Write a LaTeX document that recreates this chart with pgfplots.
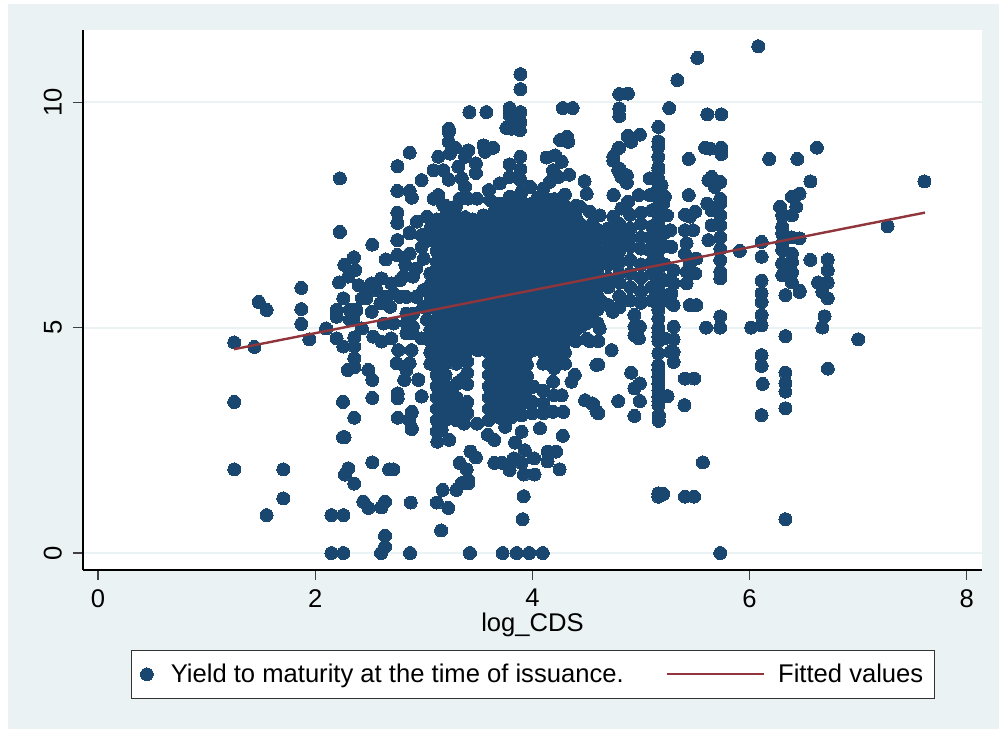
\documentclass[border=0pt]{standalone}
\usepackage{pgfplots}
\pgfplotsset{compat=1.18}
\usepackage{fontspec}
\setmainfont{Liberation Sans}
\definecolor{stblue}{HTML}{1A476F}
\definecolor{stmaroon}{HTML}{90353B}
\definecolor{stbg}{HTML}{EAF2F3}
\pgfplotsset{frame/.style={
    at={(83pt,159pt)}, anchor=south west,
    scale only axis, width=899pt, height=540pt,
    xmin=-0.138, xmax=8.14, ymin=-0.377, ymax=11.6}}

\begin{document}
\begin{tikzpicture}[x=1pt,y=1pt]
\useasboundingbox (0,0) rectangle (999,729);
\fill[stbg] (8,0) rectangle (999,725);
\begin{axis}[
    frame,
    axis background/.style={fill=white},
    axis x line*=bottom, axis y line*=left,
    axis line style={-, black, line width=1.1pt},
    xtick={0,2,4,6,8}, ytick={0,5,10},
    tick align=outside, major tick length=10pt,
    tick style={line width=1.1pt, black!75},
    ymajorgrids, grid style={stbg, line width=2pt},
    /pgf/number format/assume math mode=true,
    tick label style={font=\fontsize{25.6}{29}\selectfont, inner sep=0pt},
    xticklabel style={yshift=-9pt},
    yticklabel style={rotate=90, anchor=south, yshift=11pt},
    xlabel={log\_CDS},
    xlabel style={font=\fontsize{25.6}{29}\selectfont, inner sep=0pt, at={(0.5,0)}, anchor=north, yshift=-43pt},
]
\addplot[only marks, mark=*, mark size=6.5pt, mark options={draw=stblue, fill=stblue, line width=0pt}]
coordinates {
% left tail
(1.255,4.67)(1.44,4.57)(1.48,5.57)(1.553,5.39)(1.872,5.88)(1.872,5.41)(1.872,5.08)(1.946,4.74)
(1.255,3.35)(1.255,1.855)(1.707,1.855)(1.707,1.21)(1.553,0.84)(2.10,4.98)
(2.15,0.84)(2.26,0.84)(2.15,0)(2.26,0)(2.228,7.12)(2.228,8.31)(2.526,6.84)(2.256,3.35)(2.36,3.0)
(2.256,2.57)(2.27,2.57)(2.526,2.01)(2.305,1.88)(2.274,1.74)(2.36,1.54)(2.443,1.14)(2.49,1.0)
(2.61,1.01)(2.643,1.14)(2.88,1.12)(2.643,0.38)(2.643,0.14)(2.606,0)(2.873,0)(2.68,1.855)(2.72,1.855)
(3.12,1.12)(3.16,0.5)(2.98,3.48)(2.76,3.0)(2.888,3.11)(2.864,2.95)(2.888,2.75)
(2.76,3.54)(2.76,3.43)(2.526,3.44)(2.49,4.06)(2.526,3.84)(2.95,3.84)(2.82,3.84)
% cluster left of the core
(2.197,4.76)(2.259,4.58)(2.36,4.78)(2.36,4.58)(2.36,4.32)(2.30,4.06)(2.36,4.12)(2.197,5.39)(2.259,5.65)
(2.197,5.24)(2.32,5.39)(2.32,5.17)(2.38,5.39)(2.43,5.65)(2.40,5.94)(2.52,5.98)(2.61,6.09)(2.70,5.98)
(2.22,6.0)(2.305,6.13)(2.268,6.39)(2.37,6.28)(2.357,6.56)(2.65,6.51)(2.756,6.94)(2.756,6.61)(2.87,6.64)
(2.87,7.09)(2.98,7.05)(2.98,6.79)(3.0,6.53)(2.83,6.39)(2.93,6.31)(2.90,6.13)(2.81,6.13)(2.535,4.80)
(2.61,4.69)(2.70,4.76)(2.765,4.50)(2.888,4.50)(2.75,4.21)(2.84,4.06)(2.87,4.21)(2.98,4.76)(2.84,4.87)
(2.90,4.87)(2.43,4.98)(2.63,5.09)(2.72,5.09)(2.52,5.35)(2.35,5.20)(2.47,5.83)(2.565,5.83)(2.66,5.68)
(2.72,5.76)(2.78,6.05)(2.60,5.54)(2.69,5.46)(2.47,5.65)(2.84,5.31)(2.90,5.31)(2.84,5.09)(2.90,5.02)
(2.78,5.68)(2.84,5.68)(2.93,5.68)(2.995,5.83)(2.995,5.46)(3.03,5.17)
% bottom of the core
(3.425,0)(3.726,0)(3.855,0)(3.97,0)(4.095,0)(3.174,1.40)(3.226,1.0)(3.30,1.40)(3.35,1.55)
(3.41,1.55)(3.41,1.62)(3.395,1.855)(3.33,2.0)(3.43,2.25)(3.48,2.12)(3.65,2.0)(3.72,2.0)(3.79,1.84)
(3.83,2.1)(3.90,2.0)(3.92,1.74)(4.02,1.74)(4.015,2.1)(4.14,2.03)(4.14,2.25)(4.22,2.25)(4.25,1.855)
(3.92,1.26)(3.91,0.75)(3.93,2.28)(3.84,2.45)(3.90,2.69)(4.07,2.77)(4.28,2.60)(3.65,2.51)(3.59,2.62)
(3.125,2.47)(3.235,2.51)(3.165,2.73)(2.89,2.76)(2.89,3.13)(3.37,2.87)(3.49,2.87)(3.75,2.80)
(2.98,3.47)(2.95,3.85)(4.59,4.17)(4.485,3.39)(4.59,3.14)(4.55,3.32)(4.27,3.50)(4.39,3.95)(4.285,3.13)
(4.19,3.13)(4.10,3.32)(4.01,3.69)(4.36,3.8)(4.19,3.8)
% core stripes
(3.06,7.2)(3.06,6.95)(3.06,6.2)(3.06,5.95)(3.06,5.7)(3.06,5.45)(3.06,4.95)(3.06,4.7)(3.06,4.45)(3.06,4.2)
(3.12,2.7)(3.12,2.95)(3.12,3.2)(3.12,3.45)(3.12,3.7)(3.12,3.95)(3.12,4.2)(3.12,4.45)(3.12,4.7)(3.12,4.95)(3.12,5.2)(3.12,5.45)(3.12,5.7)(3.12,5.95)(3.12,6.2)(3.12,6.45)(3.12,6.7)(3.12,6.95)(3.12,7.2)(3.12,7.4)
(3.2,2.95)(3.2,3.2)(3.2,3.45)(3.2,3.7)(3.2,3.95)(3.2,4.2)(3.2,4.45)(3.2,4.7)(3.2,4.95)(3.2,5.2)(3.2,5.45)(3.2,5.7)(3.2,5.95)(3.2,6.2)(3.2,6.45)(3.2,6.7)(3.2,6.95)(3.2,7.2)(3.2,7.45)(3.2,7.7)
(3.3,2.95)(3.3,3.2)(3.3,3.45)(3.3,3.75)(3.3,4.2)(3.3,4.45)(3.3,4.7)(3.3,4.95)(3.3,5.2)(3.3,5.45)(3.3,5.7)(3.3,5.95)(3.3,6.2)(3.3,6.45)(3.3,6.7)(3.3,6.95)(3.3,7.2)(3.3,7.45)(3.3,7.7)
(3.4,3.1)(3.4,3.35)(3.4,3.75)(3.4,4.0)(3.4,4.25)(3.4,4.5)(3.4,4.75)(3.4,5.0)(3.4,5.25)(3.4,5.5)(3.4,5.75)(3.4,6.0)(3.4,6.25)(3.4,6.5)(3.4,6.75)(3.4,7.0)(3.4,7.2)
(3.5,4.5)(3.5,4.75)(3.5,5.0)(3.5,5.25)(3.5,5.5)(3.5,5.75)(3.5,6.0)(3.5,6.25)(3.5,6.5)(3.5,6.75)(3.5,7.0)(3.5,7.25)
(3.6,2.95)(3.6,3.2)(3.6,3.45)(3.6,3.7)(3.6,3.95)(3.6,4.2)(3.6,4.45)(3.6,4.7)(3.6,4.95)(3.6,5.2)(3.6,5.45)(3.6,5.7)(3.6,5.95)(3.6,6.2)(3.6,6.45)(3.6,6.7)(3.6,6.95)(3.6,7.2)(3.6,7.45)
(3.7,3.0)(3.7,3.25)(3.7,3.5)(3.7,3.75)(3.7,4.0)(3.7,4.25)(3.7,4.5)(3.7,4.75)(3.7,5.0)(3.7,5.25)(3.7,5.5)(3.7,5.75)(3.7,6.0)(3.7,6.25)(3.7,6.5)(3.7,6.75)(3.7,7.0)(3.7,7.25)(3.7,7.5)(3.7,7.75)
(3.8,3.0)(3.8,3.25)(3.8,3.5)(3.8,3.75)(3.8,4.0)(3.8,4.25)(3.8,4.5)(3.8,4.75)(3.8,5.0)(3.8,5.25)(3.8,5.5)(3.8,5.75)(3.8,6.0)(3.8,6.25)(3.8,6.5)(3.8,6.75)(3.8,7.0)(3.8,7.25)(3.8,7.5)(3.8,7.75)
(3.9,3.05)(3.9,3.3)(3.9,3.55)(3.9,3.8)(3.9,4.05)(3.9,4.3)(3.9,4.55)(3.9,4.8)(3.9,5.05)(3.9,5.3)(3.9,5.55)(3.9,5.8)(3.9,6.05)(3.9,6.3)(3.9,6.55)(3.9,6.8)(3.9,7.05)(3.9,7.3)(3.9,7.55)(3.9,7.8)(3.9,8.0)
(4.0,3.1)(4.0,3.35)(4.0,4.5)(4.0,4.75)(4.0,5.0)(4.0,5.25)(4.0,5.5)(4.0,5.75)(4.0,6.0)(4.0,6.25)(4.0,6.5)(4.0,6.75)(4.0,7.0)(4.0,7.25)(4.0,7.5)(4.0,7.75)
(4.1,3.1)(4.1,3.6)(4.1,4.2)(4.1,4.45)(4.1,4.7)(4.1,4.95)(4.1,5.2)(4.1,5.45)(4.1,5.7)(4.1,5.95)(4.1,6.2)(4.1,6.45)(4.1,6.7)(4.1,6.95)(4.1,7.2)(4.1,7.45)(4.1,7.7)
(4.2,3.5)(4.2,4.1)(4.2,4.35)(4.2,4.6)(4.2,4.85)(4.2,5.1)(4.2,5.35)(4.2,5.6)(4.2,5.85)(4.2,6.1)(4.2,6.35)(4.2,6.6)(4.2,6.85)(4.2,7.1)(4.2,7.35)(4.2,7.6)(4.2,7.85)
(4.3,4.2)(4.3,4.45)(4.3,4.7)(4.3,4.95)(4.3,5.2)(4.3,5.45)(4.3,5.7)(4.3,5.95)(4.3,6.2)(4.3,6.45)(4.3,6.7)(4.3,6.95)(4.3,7.2)(4.3,7.45)(4.3,7.7)(4.3,7.95)
(4.4,4.7)(4.4,4.95)(4.4,5.2)(4.4,5.45)(4.4,5.7)(4.4,5.95)(4.4,6.2)(4.4,6.45)(4.4,6.7)(4.4,6.95)(4.4,7.2)(4.4,7.45)(4.4,7.7)
(4.5,4.75)(4.5,5.1)(4.5,5.4)(4.5,5.65)(4.5,5.9)(4.5,6.15)(4.5,6.4)(4.5,6.65)(4.5,6.9)(4.5,7.15)
% in-between stripes of the core
(3.16,3.08)(3.16,3.33)(3.16,3.58)(3.16,3.83)(3.16,4.08)(3.16,4.33)(3.16,4.58)(3.16,4.83)(3.16,5.08)(3.16,5.33)(3.16,5.58)(3.16,5.83)(3.16,6.08)(3.16,6.33)(3.16,6.58)(3.16,6.83)(3.16,7.08)(3.16,7.33)
(3.25,3.08)(3.25,3.33)(3.25,3.58)(3.25,4.33)(3.25,4.58)(3.25,4.83)(3.25,5.08)(3.25,5.33)(3.25,5.58)(3.25,5.83)(3.25,6.08)(3.25,6.33)(3.25,6.58)(3.25,6.83)(3.25,7.08)(3.25,7.33)
(3.35,3.28)(3.35,3.85)(3.35,4.33)(3.35,4.58)(3.35,4.83)(3.35,5.08)(3.35,5.33)(3.35,5.58)(3.35,5.83)(3.35,6.08)(3.35,6.33)(3.35,6.58)(3.35,6.83)(3.35,7.08)(3.35,7.3)
(3.45,4.63)(3.45,4.88)(3.45,5.13)(3.45,5.38)(3.45,5.63)(3.45,5.88)(3.45,6.13)(3.45,6.38)(3.45,6.63)(3.45,6.88)(3.45,7.13)(3.45,7.4)
(3.55,4.63)(3.55,4.88)(3.55,5.13)(3.55,5.38)(3.55,5.63)(3.55,5.88)(3.55,6.13)(3.55,6.38)(3.55,6.63)(3.55,6.88)(3.55,7.13)(3.55,7.2)
(3.65,3.08)(3.65,3.33)(3.65,3.58)(3.65,3.83)(3.65,4.08)(3.65,4.33)(3.65,4.58)(3.65,4.83)(3.65,5.08)(3.65,5.33)(3.65,5.58)(3.65,5.83)(3.65,6.08)(3.65,6.33)(3.65,6.58)(3.65,6.83)(3.65,7.08)(3.65,7.33)(3.65,7.58)
(3.75,3.13)(3.75,3.38)(3.75,3.63)(3.75,3.88)(3.75,4.13)(3.75,4.38)(3.75,4.63)(3.75,4.88)(3.75,5.13)(3.75,5.38)(3.75,5.63)(3.75,5.88)(3.75,6.13)(3.75,6.38)(3.75,6.63)(3.75,6.88)(3.75,7.13)(3.75,7.38)(3.75,7.63)
(3.85,3.13)(3.85,3.38)(3.85,3.63)(3.85,3.88)(3.85,4.13)(3.85,4.38)(3.85,4.63)(3.85,4.88)(3.85,5.13)(3.85,5.38)(3.85,5.63)(3.85,5.88)(3.85,6.13)(3.85,6.38)(3.85,6.63)(3.85,6.88)(3.85,7.13)(3.85,7.38)(3.85,7.63)(3.85,7.88)
(3.95,3.43)(3.95,3.68)(3.95,3.93)(3.95,4.18)(3.95,4.43)(3.95,4.68)(3.95,4.93)(3.95,5.18)(3.95,5.43)(3.95,5.68)(3.95,5.93)(3.95,6.18)(3.95,6.43)(3.95,6.68)(3.95,6.93)(3.95,7.18)(3.95,7.43)(3.95,7.68)
(4.05,4.63)(4.05,4.88)(4.05,5.13)(4.05,5.38)(4.05,5.63)(4.05,5.88)(4.05,6.13)(4.05,6.38)(4.05,6.63)(4.05,6.88)(4.05,7.13)(4.05,7.38)(4.05,7.63)(4.05,7.88)
(4.15,4.33)(4.15,4.58)(4.15,4.83)(4.15,5.08)(4.15,5.33)(4.15,5.58)(4.15,5.83)(4.15,6.08)(4.15,6.33)(4.15,6.58)(4.15,6.83)(4.15,7.08)(4.15,7.33)(4.15,7.58)(4.15,7.83)
(4.25,4.23)(4.25,4.48)(4.25,4.73)(4.25,4.98)(4.25,5.23)(4.25,5.48)(4.25,5.73)(4.25,5.98)(4.25,6.23)(4.25,6.48)(4.25,6.73)(4.25,6.98)(4.25,7.23)(4.25,7.48)(4.25,7.73)
(4.35,4.83)(4.35,5.08)(4.35,5.33)(4.35,5.58)(4.35,5.83)(4.35,6.08)(4.35,6.33)(4.35,6.58)(4.35,6.83)(4.35,7.08)(4.35,7.33)(4.35,7.58)
(4.45,5.03)(4.45,5.28)(4.45,5.53)(4.45,5.78)(4.45,6.03)(4.45,6.28)(4.45,6.53)(4.45,6.78)(4.45,7.03)(4.45,7.28)
% top of the core
(3.89,10.62)(3.89,10.29)(3.42,9.78)(3.576,9.78)(3.79,9.87)(3.79,9.71)(3.89,9.78)(3.89,9.56)(3.76,9.43)(3.81,9.41)(3.885,9.38)
(4.28,9.87)(4.37,9.87)(4.255,9.16)(4.32,9.23)(4.33,9.12)(3.23,9.41)(3.23,9.34)(3.23,9.12)(3.29,8.99)(3.24,8.86)
(2.87,8.88)(2.757,8.58)(3.134,8.79)(3.41,8.93)(3.38,8.79)(3.55,9.04)(3.564,8.90)(3.64,8.99)(3.48,8.64)(3.48,8.43)
(3.318,8.57)(3.89,8.79)(3.79,8.62)(3.89,8.51)(4.13,8.77)(4.21,8.82)(4.27,8.68)(3.09,8.49)(3.18,8.49)(3.23,8.28)(2.98,8.27)
(3.35,8.31)(3.38,8.12)(2.757,8.03)(2.87,8.03)(2.89,7.88)(2.757,7.55)(2.757,7.32)(2.757,6.94)(2.935,7.35)(2.87,7.11)(2.98,7.05)
(3.03,7.46)(3.09,7.86)(3.134,7.94)(3.18,7.71)(3.23,7.53)(3.38,7.45)(3.43,7.38)(3.33,7.86)(3.41,7.86)(3.49,7.86)(3.55,7.49)
(3.60,8.05)(3.70,8.2)(3.79,8.34)(3.89,8.27)(3.98,8.12)(3.61,7.83)(3.79,7.9)(4.10,8.08)(4.16,8.23)(4.24,8.34)(4.34,8.39)
(4.48,8.25)(4.50,7.97)(4.44,7.68)(4.19,8.49)(4.75,7.94)(4.53,7.57)(4.62,7.49)(4.61,7.16)(4.745,7.46)(4.82,7.64)(4.88,7.79)
(4.745,8.79)(4.79,8.97)(4.79,8.49)(4.82,8.34)(4.88,9.23)(4.71,6.79)
% right of the core
(4.55,7.3)(4.55,7.05)(4.55,6.8)(4.55,6.55)(4.55,6.3)(4.55,6.05)(4.55,5.8)(4.55,5.55)(4.55,5.3)
(4.6,7.1)(4.6,6.9)(4.6,6.7)(4.6,6.5)(4.6,6.3)(4.6,6.1)(4.6,5.9)(4.6,5.7)(4.6,5.4)(4.6,5.1)
(4.7,7.2)(4.7,7.0)(4.7,6.6)(4.7,6.4)(4.7,6.1)(4.7,5.9)(4.7,5.5)
(4.8,7.3)(4.8,7.1)(4.8,6.9)(4.8,6.7)(4.8,6.45)(4.8,6.2)(4.8,6.0)(4.8,5.7)(4.8,5.45)
(4.9,7.5)(4.9,7.2)(4.9,7.0)(4.9,6.8)(4.9,6.5)(4.9,6.2)(4.9,5.9)(4.9,5.6)
(5.0,7.55)(5.0,7.3)(5.0,7.0)(5.0,6.75)(5.0,6.4)(5.0,6.1)(5.0,5.8)(5.0,5.55)
(5.73,0)(6.33,0.75)(5.57,2.01)(5.16,1.25)(5.205,1.31)(5.16,1.32)(5.405,1.25)(5.49,1.25)(5.165,2.93)(5.165,3.06)(4.94,3.04)(5.40,3.28)(5.245,3.48)
(4.99,3.37)(4.79,3.37)(4.607,3.10)(4.56,3.30)(4.94,3.65)(4.99,3.76)(4.91,4.0)(5.405,3.87)(5.49,3.87)
(5.16,3.28)(5.16,3.37)(5.16,3.47)(5.16,3.61)(5.16,3.76)(5.16,3.91)(5.16,4.06)(5.16,4.17)(5.16,4.43)(5.27,4.46)(5.30,4.46)(5.30,4.24)
(4.607,4.18)(4.73,4.5)(4.607,4.70)(4.53,4.70)(4.62,4.98)(4.94,5.28)(4.94,5.02)(4.99,5.02)(4.94,4.83)(4.98,4.76)
(5.16,4.7)(5.16,4.8)(5.16,4.9)(5.16,5.0)(5.16,5.2)(5.16,5.39)(5.22,4.76)(5.30,4.74)(5.30,5.02)
(5.60,5.0)(5.73,5.0)(5.73,5.25)(6.015,5.0)(6.11,5.05)(6.11,5.28)(6.11,5.57)(6.11,5.76)(6.11,4.39)(6.11,4.15)(6.12,3.75)(6.11,3.06)
(6.33,4.81)(6.33,4.0)(6.33,3.76)(6.33,3.58)(6.33,3.21)(6.67,5.0)(6.69,5.25)(6.72,5.65)(6.67,5.79)(7.0,4.74)(6.72,4.09)(6.33,5.72)(6.46,5.79)
(5.30,5.5)(5.16,5.5)(5.51,5.5)(5.45,5.5)(4.64,5.57)(4.74,5.35)
(6.08,11.24)(5.52,10.98)(5.335,10.49)(5.26,9.87)(4.80,10.18)(4.88,10.19)(4.80,9.86)(4.80,9.69)(5.61,9.73)(5.74,9.73)
(5.16,9.45)(5.16,9.13)(5.16,9.01)(5.16,8.79)(5.16,8.55)(4.88,9.25)(4.91,9.12)(4.99,9.28)(4.80,8.99)(4.745,8.70)
(4.80,8.53)(4.84,8.34)(4.87,8.38)(4.87,8.21)(5.59,8.99)(5.635,8.97)(5.74,8.99)(5.74,8.85)(5.44,8.74)(6.18,8.74)(6.44,8.74)(6.62,8.99)
(7.61,8.24)(6.56,8.24)(6.46,7.97)(6.39,7.90)(6.43,7.68)(6.39,7.49)
(6.28,7.68)(6.30,7.49)(6.30,7.24)(6.30,7.09)(6.30,6.87)(6.30,6.72)(6.30,6.42)(6.30,6.16)
(6.39,7.0)(6.46,6.98)(6.39,6.64)(6.39,6.46)(6.39,6.23)(6.39,6.0)(6.46,5.82)(6.56,6.5)
(6.72,6.51)(6.72,6.27)(6.72,6.0)(6.63,6.0)(6.11,6.9)(6.11,6.57)(6.11,6.04)(5.91,6.70)(7.27,7.25)
(5.65,8.34)(5.62,8.27)(5.68,8.12)(5.73,8.23)(5.44,7.94)
(5.73,7.86)(5.73,7.75)(5.73,7.49)(5.73,7.27)(5.73,7.0)(5.73,6.75)(5.73,6.5)(5.73,6.24)(5.73,6.09)
(5.61,7.75)(5.65,7.6)(5.65,7.27)(5.62,6.94)(5.405,7.5)(5.50,7.57)(5.45,7.46)(5.48,7.16)(5.405,7.16)
(5.42,6.87)(5.405,6.64)(5.51,6.53)(5.45,6.42)(5.50,6.2)(5.42,6.24)(5.42,5.98)(5.30,6.27)(5.30,5.98)(5.28,5.76)(5.28,5.54)
(5.16,8.49)(5.16,8.3)(5.16,8.1)(5.16,7.9)(5.16,7.7)(5.16,7.5)(5.16,7.3)(5.16,7.1)(5.16,6.9)(5.16,6.7)(5.16,6.5)(5.16,6.3)(5.16,6.1)(5.16,5.9)(5.16,5.7)
(5.22,7.9)(5.22,7.5)(5.22,7.1)(5.22,6.8)(5.22,6.4)(5.22,6.05)(5.22,5.7)(5.1,7.6)(5.1,7.25)(5.1,6.45)(5.1,6.2)(5.1,5.9)(5.1,5.6)
(5.08,8.31)(5.19,8.16)(5.08,7.94)(4.98,7.94)(4.745,7.94)(4.88,7.79)(5.205,7.75)(5.24,7.49)(5.27,7.16)(5.28,6.79)(5.08,7.0)(5.08,6.72)
};
\end{axis}
% fitted line and legend in a second axis, so that the line lies over the marks
\begin{axis}[
    frame, hide x axis, hide y axis,
    legend columns=2,
    legend style={at={(0.0534,-0.2385)}, anchor=south west, draw=black!80, line width=1pt,
        fill=white, font=\fontsize{25.6}{29}\selectfont, inner xsep=9pt, inner ysep=12pt,
        /tikz/every even column/.append style={column sep=40pt}},
]
\addlegendimage{legend image code/.code={\path (21.4pt,0pt); \path[mark=*, mark size=6.4pt, mark options={draw=stblue, fill=stblue, line width=0pt}] plot coordinates {(0pt,0pt)};}}
\addlegendentry{Yield to maturity at the time of issuance.}
\addplot[stmaroon, line width=2.4pt, no marks,
    legend image code/.code={\draw[stmaroon, line width=2.4pt] (0pt,0pt) -- (97pt,0pt); \path (108pt,0pt);}]
coordinates {(1.252,4.52)(7.615,7.55)};
\addlegendentry{Fitted values\hspace{6pt}}
\end{axis}
\end{tikzpicture}
\end{document}
